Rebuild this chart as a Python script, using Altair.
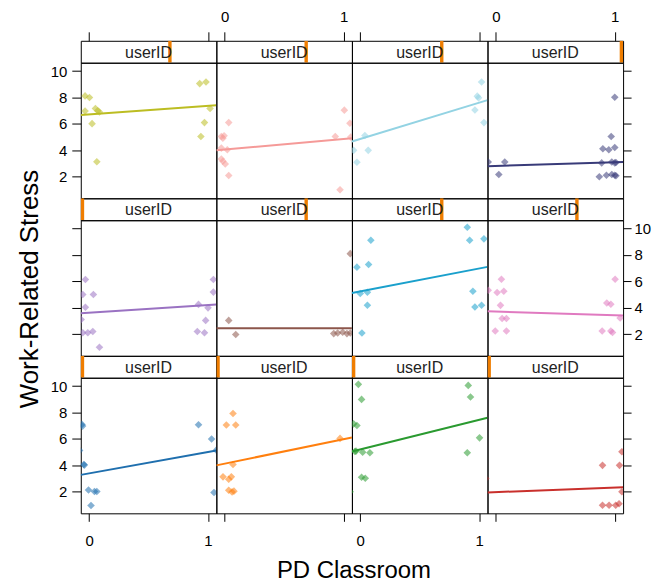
import altair as alt
import pandas as pd

FONT = "Liberation Sans"
XDOM = [-0.07, 1.07]
YDOM = [0.37, 10.63]

# panel order: top row left->right, then middle row, then bottom row
colors = ["#bcbd22", "#f59a98", "#93d3e3", "#393b79",
          "#9a72c2", "#8c564b", "#1aa0cc", "#e07ac0",
          "#1f6fae", "#ff7f0e", "#2a9a30", "#c9302c"]

# jittered PD Classroom (0/1) and Work-Related Stress values, per panel
x_olive = [-0.034, 0.003, -0.034, 0.053, 0.073, 0.087, 0.025, 0.065, 0.93, 0.983, 1.017, 0.97, 0.94]
y_olive = [8.12, 8.0, 6.97, 7.17, 7.0, 6.9, 6.02, 3.14, 9.05, 9.17, 7.17, 6.1, 5.05]

x_pink = [0.034, -0.028, -0.005, -0.015, -0.028, 0.022, -0.028, -0.015, 0.005, 0.034, 1.006, 1.053, 0.93, 1.06, 0.97]
y_pink = [6.1, 5.05, 5.1, 4.92, 4.17, 4.04, 3.35, 3.17, 2.97, 2.1, 7.04, 6.05, 5.05, 5.0, 1.02]

x_lblue = [1.02, 0.984, 0.995, 0.964, 1.04, 0.039, -0.056, 0.067, -0.028]
y_lblue = [9.17, 8.1, 7.97, 7.05, 6.1, 5.12, 4.0, 4.0, 3.1]

x_navy = [-0.064, 0.075, 0.025, 1.0, 0.97, 0.9, 0.95, 1.0, 0.89, 0.975, 1.0, 1.01, 0.87, 0.93, 0.975, 1.0, 1.01]
y_navy = [3.12, 3.12, 2.17, 8.02, 5.05, 4.12, 4.04, 4.22, 3.05, 3.12, 3.05, 3.08, 2.0, 2.12, 2.17, 2.12, 2.08]

x_purple = [-0.031, -0.053, 0.036, -0.031, -0.067, -0.053, -0.011, 0.031, 0.087, 0.92, 1.0, 1.045, 1.045, 0.98, 0.91, 0.97]
y_purple = [6.15, 5.01, 5.01, 4.05, 3.12, 2.11, 2.11, 2.21, 1.02, 4.26, 4.0, 6.15, 5.19, 3.05, 2.21, 2.11]

x_brown = [0.034, 0.093, 1.056, 0.917, 0.95, 0.992, 1.028, 1.056]
y_brown = [3.05, 1.98, 8.1, 2.05, 2.1, 2.15, 2.05, 2.1]

x_cyan = [0.089, -0.028, 0.07, 0.0, 0.06, 0.06, 0.014, 0.9, 0.92, 1.04, 0.947, 0.964, 1.02]
y_cyan = [9.12, 7.08, 7.28, 5.08, 5.18, 4.2, 2.1, 10.1, 9.12, 9.22, 5.26, 4.07, 4.2]

x_pink2 = [0.047, -0.064, 0.011, 0.067, 0.039, 0.053, 0.089, -0.005, 0.089, 1.003, 0.933, 0.967, 1.045, 0.894, 0.967, 0.981]
y_pink2 = [6.16, 5.33, 5.16, 5.25, 4.19, 3.19, 3.19, 2.25, 2.25, 6.16, 4.37, 4.27, 3.23, 2.25, 2.25, 2.13]

x_blue = [-0.06, -0.055, -0.045, -0.04, -0.08, -0.005, 0.045, 0.065, 0.016, 0.92, 1.03, 1.07, 1.05]
y_blue = [7.1, 6.97, 4.07, 4.02, 5.13, 2.14, 2.02, 2.02, 0.96, 7.07, 6.0, 5.15, 1.95]

x_orange = [0.07, 0.014, 0.093, 0.07, -0.014, 0.034, 0.056, 0.034, 0.062, 0.078, 0.97]
y_orange = [7.93, 7.05, 7.05, 4.07, 3.13, 2.95, 3.13, 2.12, 1.99, 2.05, 6.04]

x_green = [-0.016, 0.011, -0.056, -0.028, -0.036, -0.045, 0.02, 0.081, 0.011, 0.042, -0.085, 0.908, 0.927, 1.003, 0.9]
y_green = [10.13, 8.99, 7.14, 7.02, 5.08, 5.05, 5.0, 4.95, 3.1, 3.02, 2.0, 10.05, 9.17, 6.08, 4.95]

x_red = [0.897, 1.04, 1.06, 0.897, 0.952, 1.008, 1.036, 1.06, -0.085]
y_red = [4.0, 4.0, 5.03, 0.98, 0.98, 0.98, 1.1, 2.0, 3.0]

xs = [x_olive, x_pink, x_lblue, x_navy, x_purple, x_brown, x_cyan, x_pink2, x_blue, x_orange, x_green, x_red]
ys = [y_olive, y_pink, y_lblue, y_navy, y_purple, y_brown, y_cyan, y_pink2, y_blue, y_orange, y_green, y_red]

# fitted line values at the panel's left and right edges
line_left = [6.67, 4.0, 4.67, 2.8, 3.6, 2.45, 5.13, 3.74, 3.28, 4.0, 5.05, 1.95]
line_right = [7.42, 4.92, 7.8, 3.12, 4.26, 2.45, 7.1, 3.43, 5.13, 6.11, 7.6, 2.35]

# strip level indicator position (fraction of strip width)
strip_level = [0.645, 0.65, 0.65, 0.975,
               0.0, 0.65, 0.65, 0.647,
               0.0, 0.0, 0.0, 0.0]
LEVEL_W = 0.025

x_ticks = [0, 1]
y_ticks = [2, 4, 6, 8, 10]

PW, PH, SH = 136, 136, 22

axis_style = dict(domain=False, grid=False, tickColor="black", labelColor="black",
                  labelFont=FONT, labelFontSize=15, title=None, format="d")

xscale = alt.Scale(domain=XDOM, nice=False, zero=False)
yscale = alt.Scale(domain=YDOM, nice=False, zero=False)


def panel(i):
    r, c = divmod(i, 4)
    col = colors[i]
    df = pd.DataFrame({"x": xs[i], "y": ys[i]})
    ln = pd.DataFrame({"x": XDOM, "y": [line_left[i], line_right[i]]})
    if r == 2:
        xax = alt.Axis(orient="bottom", values=x_ticks, tickSize=8, labelPadding=12,
                       labels=(c in (0, 2)), **axis_style)
    else:
        xax = None
    if c == 0:
        yax = alt.Axis(orient="left", values=y_ticks, tickSize=9, labelPadding=5,
                       labels=(r in (0, 2)), **axis_style)
    elif c == 3:
        yax = alt.Axis(orient="right", values=y_ticks, tickSize=8, labelPadding=3,
                       labels=(r == 1), **axis_style)
    else:
        yax = None
    xe = alt.X("x:Q", scale=xscale, axis=xax)
    ye = alt.Y("y:Q", scale=yscale, axis=yax)
    pts = alt.Chart(df).mark_point(shape="diamond", filled=True, size=58, opacity=0.55,
                                   color=col, clip=True).encode(x=xe, y=ye)
    line = alt.Chart(ln).mark_line(color=col, strokeWidth=2, clip=True).encode(x=xe, y=ye)
    return alt.layer(pts, line).properties(width=PW, height=PH)


def strip(i):
    r, c = divmod(i, 4)
    d = pd.DataFrame({"lvl": [strip_level[i]]})
    if r == 0:
        xax = alt.Axis(orient="top", values=x_ticks, tickSize=9, labelPadding=7,
                       labels=(c in (1, 3)), **axis_style)
    else:
        xax = None
    bar = alt.Chart(d).transform_calculate(
        lo="-0.07 + datum.lvl * 1.14",
        hi="-0.07 + (datum.lvl + %f) * 1.14" % LEVEL_W,
    ).mark_rect(color="#ef7d00", clip=True).encode(
        x=alt.X("lo:Q", scale=xscale, axis=xax), x2="hi:Q")
    txt = alt.Chart(d).mark_text(text="userID", font=FONT, fontSize=16, color="#222",
                                 baseline="middle", dy=1).encode(
        x=alt.X(datum=0.5, scale=xscale, axis=xax))
    return alt.layer(bar, txt).properties(width=PW, height=SH)


cells = []
for r in range(3):
    for c in range(4):
        cells.append(strip(4 * r + c))
    for c in range(4):
        cells.append(panel(4 * r + c))

grid = alt.concat(*cells, columns=4, spacing=0, bounds="flush", align="each").properties(
    title=alt.TitleParams(text="Work-Related Stress", orient="left", anchor="middle",
                          font=FONT, fontSize=26, fontWeight="normal", color="black",
                          offset=7, dx=-10)
)

chart = alt.vconcat(grid, spacing=0).properties(
    title=alt.TitleParams(text="PD Classroom", orient="bottom", anchor="middle",
                          font=FONT, fontSize=24, fontWeight="normal", color="black",
                          offset=10, dx=20),
    padding={"left": 8, "top": 0, "right": 0, "bottom": 0},
).configure_view(stroke="black", strokeWidth=1)

chart.save("out.html", embed_options={"renderer": "svg", "actions": False})
